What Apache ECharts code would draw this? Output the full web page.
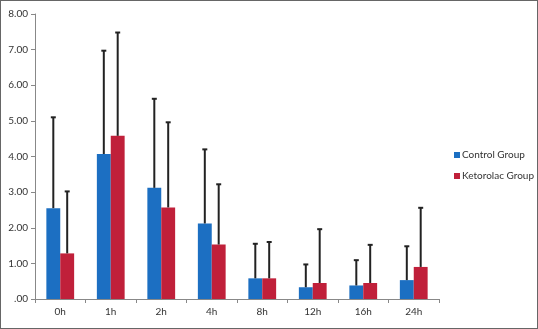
<!DOCTYPE html>
<html>
<head>
<meta charset="utf-8">
<script src="https://cdn.jsdelivr.net/npm/echarts@6/dist/echarts.min.js"></script>
<style>
  * { margin: 0; padding: 0; }
  html, body { width: 538px; height: 329px; overflow: hidden; background: #fff; }
  #chart-container {
    position: relative;
    width: 536px;
    height: 327px;
    border: 1px solid #666;
  }
</style>
</head>
<body>
<div id="chart-container"></div>
<script>
  var categories = ['0h', '1h', '2h', '4h', '8h', '12h', '16h', '24h']
  var controlMean = [2.55, 4.07, 3.12, 2.12, 0.58, 0.33, 0.38, 0.53]
  var controlTop = [5.1, 6.97, 5.62, 4.2, 1.55, 0.97, 1.09, 1.48]
  var ketorolacMean = [1.28, 4.58, 2.57, 1.53, 0.58, 0.45, 0.45, 0.9]
  var ketorolacTop = [3.02, 7.48, 4.96, 3.22, 1.6, 1.96, 1.52, 2.56]

  var chartDom = document.getElementById('chart-container')
  var myChart = echarts.init(chartDom, null, { renderer: 'canvas' })

  var gapRatio = 0.45

  // error bar drawn from the mean up to the top, centred on its bar
  function errorBar(tops, side) {
    return {
      type: 'custom',
      silent: true,
      z: 5,
      data: tops.map(function (t, i) {
        return [i, (side < 0 ? controlMean : ketorolacMean)[i], t]
      }),
      renderItem: function (params, api) {
        var catW = api.size([1, 0])[0]
        var barW = catW * (1 - gapRatio) / 2
        var low = api.coord([api.value(0), api.value(1)])
        var high = api.coord([api.value(0), api.value(2)])
        var x = low[0] + side * barW / 2
        var style = { stroke: '#222', lineWidth: 2 }
        return {
          type: 'group',
          children: [
            { type: 'line', shape: { x1: x, y1: low[1], x2: x, y2: high[1] }, style: style },
            { type: 'line', shape: { x1: x - 2.5, y1: high[1], x2: x + 2.5, y2: high[1] }, style: style }
          ]
        }
      }
    }
  }

  var option = {
    animation: false,
    textStyle: { fontFamily: 'Lato, Open Sans, sans-serif' },
    grid: { left: 34, right: 98, top: 13, bottom: 29 },
    legend: {
      orient: 'vertical',
      left: 453,
      top: 149,
      padding: 0,
      itemWidth: 6,
      itemHeight: 6,
      itemGap: 11,
      icon: 'rect',
      textStyle: { fontSize: 10, color: '#333', padding: [0, 0, 0, -3] },
      data: ['Control Group', 'Ketorolac Group']
    },
    xAxis: {
      type: 'category',
      data: categories,
      axisLine: { lineStyle: { color: '#888' } },
      axisTick: { show: true, length: 4, lineStyle: { color: '#888' } },
      axisLabel: { fontSize: 10, color: '#333', margin: 8 }
    },
    yAxis: {
      type: 'value',
      min: 0,
      max: 8,
      interval: 1,
      splitLine: { show: false },
      axisLine: { show: true, lineStyle: { color: '#888' } },
      axisTick: { show: true, length: 4, lineStyle: { color: '#888' } },
      axisLabel: {
        fontSize: 10,
        color: '#333',
        margin: 7,
        formatter: function (v) { return v === 0 ? '.00' : v.toFixed(2) }
      }
    },
    series: [
      {
        name: 'Control Group',
        type: 'bar',
        data: controlMean,
        barGap: '0%',
        barCategoryGap: gapRatio * 100 + '%',
        itemStyle: { color: '#1c6fc2' }
      },
      {
        name: 'Ketorolac Group',
        type: 'bar',
        data: ketorolacMean,
        itemStyle: { color: '#c0203a' }
      },
      errorBar(controlTop, -1),
      errorBar(ketorolacTop, 1)
    ]
  }

  myChart.setOption(option)
  window.addEventListener('resize', myChart.resize)
</script>
</body>
</html>
